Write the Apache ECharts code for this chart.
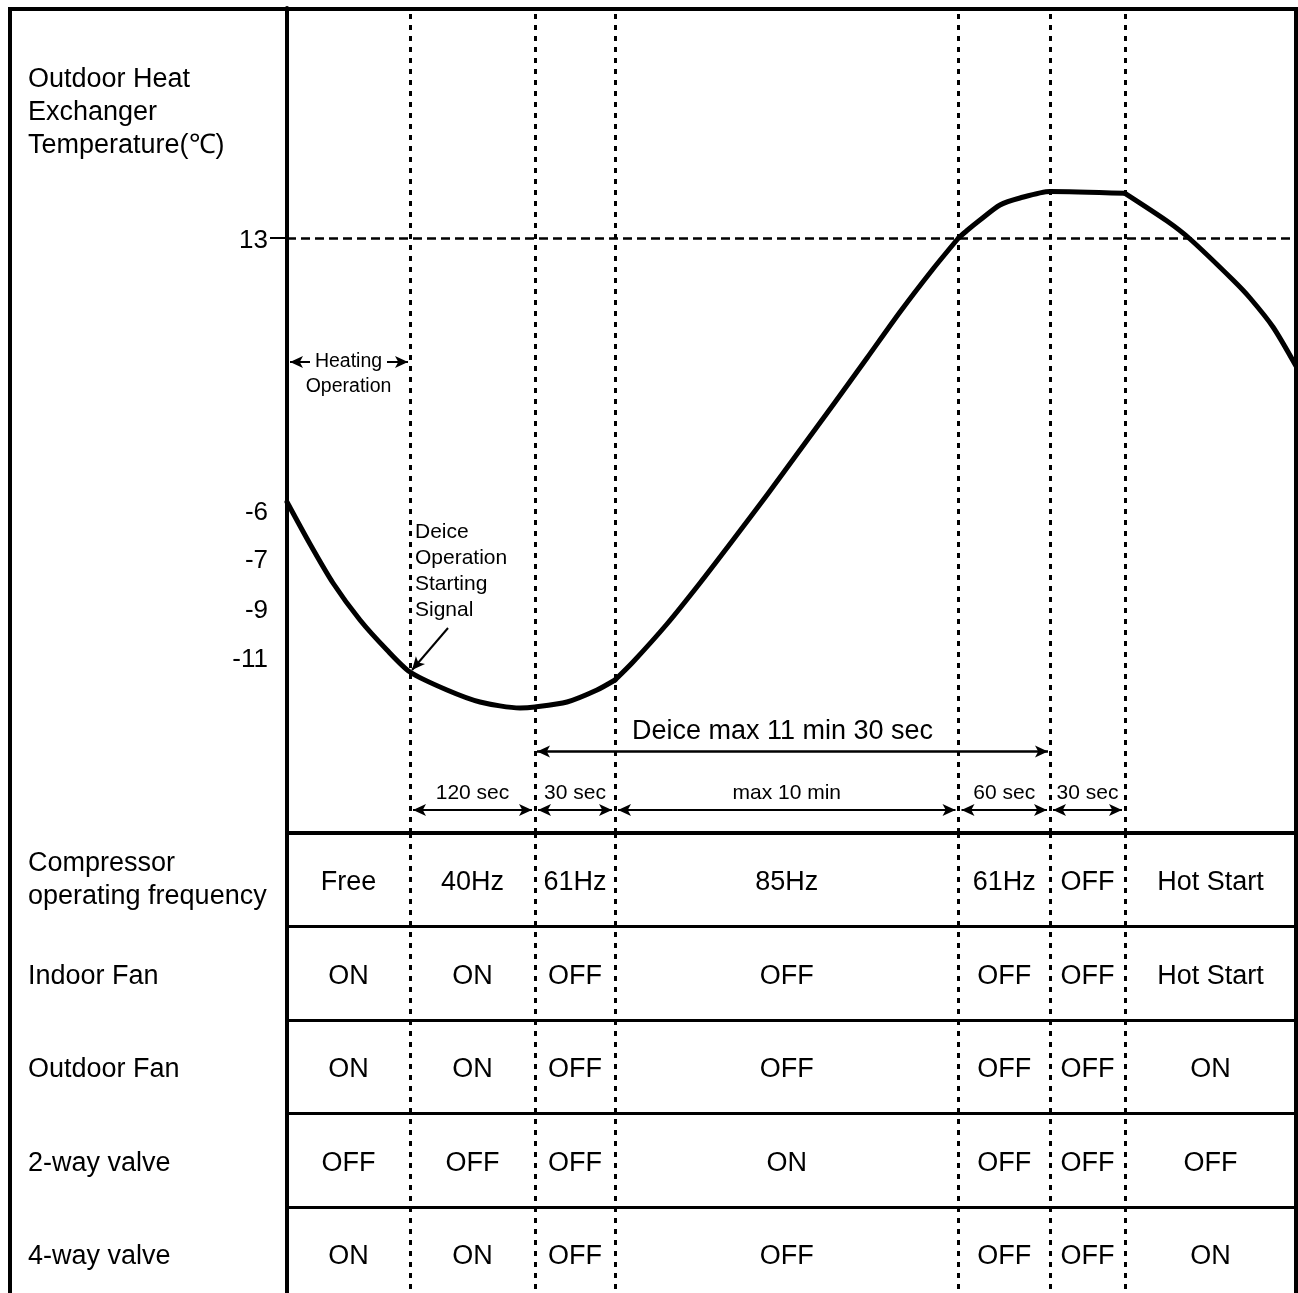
<!DOCTYPE html>
<html><head><meta charset="utf-8">
<script src="https://cdn.jsdelivr.net/npm/echarts@6/dist/echarts.min.js"></script>
<style>html,body{margin:0;padding:0;background:#fff}#c{width:1298px;height:1293px}</style>
</head><body><div id="c"></div>
<script>
// ---- data (schematic units) ----
const yTitle = 'Outdoor Heat\nExchanger\nTemperature(\u2103)';
// phase boundaries on the schematic time axis
const phaseBounds = [0, 12.3, 24.8, 32.8, 67.15, 76.3, 83.8, 100.9];
// temperature curve (schematic time, schematic level)
const curveTime  = [0, 2.3, 4.6, 7.3, 10.0, 12.3, 16.0, 19.3, 23.3, 24.8, 28.0, 31.0, 32.8, 34.6, 38.0, 41.3, 44.6, 48.0, 51.3, 54.6, 58.0, 61.3, 64.6, 67.15, 68.0, 69.3, 71.3, 73.3, 76.3, 83.8, 88.0, 90.3, 94.6, 96.3, 98.6, 100.9];
const curveLevel = [33.1, 28.9, 25.0, 21.3, 18.3, 16.1, 14.3, 13.1, 12.5, 12.6, 13.1, 14.3, 15.3, 17.1, 20.9, 25.0, 29.3, 33.8, 38.3, 42.8, 47.5, 52.1, 56.4, 59.5, 60.25, 61.3, 62.8, 63.5, 64.15, 63.97, 61.2, 59.4, 55.3, 53.5, 50.6, 46.7];
// indices of the points where the curve has a corner
const curveCorners = [12, 23, 29];
const tempTickLevels = [59.5, 32.3, 27.5, 22.5, 17.6];
const tempTickLabels = ['13', '-6', '-7', '-9', '-11'];
const thresholdLevel = 59.5;
const durationLabels = ['120 sec', '30 sec', 'max 10 min', '60 sec', '30 sec'];
const deiceLabel = 'Deice max 11 min 30 sec';
const heatingLabel = ['Heating', 'Operation'];
const signalLabel = 'Deice\nOperation\nStarting\nSignal';
const rowLabels = ['Compressor\noperating frequency', 'Indoor Fan', 'Outdoor Fan', '2-way valve', '4-way valve'];
const compressorStates = ['Free', '40Hz', '61Hz', '85Hz', '61Hz', 'OFF', 'Hot Start'];
const indoorFanStates  = ['ON', 'ON', 'OFF', 'OFF', 'OFF', 'OFF', 'Hot Start'];
const outdoorFanStates = ['ON', 'ON', 'OFF', 'OFF', 'OFF', 'OFF', 'ON'];
const twoWayStates     = ['OFF', 'OFF', 'OFF', 'ON', 'OFF', 'OFF', 'OFF'];
const fourWayStates    = ['ON', 'ON', 'OFF', 'OFF', 'OFF', 'OFF', 'ON'];

// ---- build ----
const FONT = '"Liberation Sans", Arial, sans-serif';
const BLACK = '#000';
const XMAX = phaseBounds[phaseBounds.length - 1];
const inner = phaseBounds.slice(1, -1);
const mids = phaseBounds.slice(0, -1).map((b, i) => (b + phaseBounds[i + 1]) / 2);
const curve = curveTime.map((t, i) => [t, curveLevel[i]]);
const cuts = [0].concat(curveCorners, [curve.length - 1]);
const curveSegments = cuts.slice(0, -1).map((c, i) => curve.slice(c, cuts[i + 1] + 1));
const rows = [compressorStates, indoorFanStates, outdoorFanStates, twoWayStates, fourWayStates];
const cells = [];
rows.forEach((r, ri) => r.forEach((s, pi) => cells.push([mids[pi], ri, s])));

const INSET = 0.3;
const dimLevel = 2.3, deiceLevel = 8.15, heatLevel = 47.1;
const arrowSize = [9, 13];
const solid = w => ({ color: BLACK, width: w, type: 'solid' });
const dimArrows = durationLabels.map((lab, i) => [
  { coord: [phaseBounds[i + 1] + INSET, dimLevel], symbol: 'arrow', symbolSize: arrowSize, lineStyle: solid(2),
    label: { show: true, formatter: lab, position: 'insideMiddleTop', distance: 6, color: BLACK, fontSize: 21, fontFamily: FONT } },
  { coord: [phaseBounds[i + 2] - INSET, dimLevel], symbol: 'arrow', symbolSize: arrowSize }
]);
const deiceArrow = [
  { coord: [phaseBounds[2] + 0.2, deiceLevel], symbol: 'arrow', symbolSize: arrowSize, lineStyle: solid(2.5) },
  { coord: [phaseBounds[5] - 0.2, deiceLevel], symbol: 'arrow', symbolSize: arrowSize }
];
const heatArrowL = [
  { coord: [2.3, heatLevel], symbol: 'none', lineStyle: solid(2) },
  { coord: [phaseBounds[0] + 0.3, heatLevel], symbol: 'arrow', symbolSize: arrowSize }
];
const heatArrowR = [
  { coord: [10.0, heatLevel], symbol: 'none', lineStyle: solid(2) },
  { coord: [phaseBounds[1] - 0.2, heatLevel], symbol: 'arrow', symbolSize: arrowSize }
];
const signalArrow = [
  { coord: [16.1, 20.5], symbol: 'none', lineStyle: solid(2) },
  { coord: [12.5, 16.3], symbol: 'arrow', symbolSize: arrowSize }
];
const txt = (x, y, s, extra) => ({ value: [x, y], label: Object.assign({ show: true, formatter: s, position: 'inside', color: BLACK, fontFamily: FONT }, extra) });

const chart = echarts.init(document.getElementById('c'), null, { renderer: 'canvas' });
chart.setOption({
  animation: false,
  backgroundColor: '#fff',
  textStyle: { fontFamily: FONT, color: BLACK },
  title: {
    text: yTitle, left: 28, top: 63, padding: 0,
    textStyle: { fontFamily: FONT, fontSize: 27, fontWeight: 'normal', color: BLACK, lineHeight: 33 }
  },
  grid: [
    { left: 287, right: 2, top: 8, height: 825, containLabel: false, outerBoundsMode: 'none' },
    { left: 287, right: 2, top: 833, height: 467.5, containLabel: false, outerBoundsMode: 'none' }
  ],
  xAxis: [
    { type: 'value', gridIndex: 0, min: 0, max: XMAX,
      axisLine: { show: true, lineStyle: { color: BLACK, width: 4 } },
      axisTick: { show: false }, axisLabel: { show: false }, splitLine: { show: false } },
    { type: 'value', gridIndex: 1, min: 0, max: XMAX, show: false, splitLine: { show: false } }
  ],
  yAxis: [
    { type: 'value', gridIndex: 0, min: 0, max: 82.5,
      axisLine: { show: true, lineStyle: { color: BLACK, width: 4 } },
      axisTick: { show: true, customValues: [thresholdLevel], length: 17, lineStyle: { color: BLACK, width: 2 } },
      axisLabel: { show: true, customValues: tempTickLevels, margin: 19, color: BLACK,
        rich: { t: { fontSize: 26, fontFamily: FONT, color: BLACK, padding: [5, 0, 0, 0] } },
        formatter: v => { const i = tempTickLevels.indexOf(v); return i >= 0 ? '{t|' + tempTickLabels[i] + '}' : ''; } },
      splitLine: { show: false } },
    { type: 'category', gridIndex: 1, inverse: true, data: rowLabels,
      axisLine: { show: true, lineStyle: { color: BLACK, width: 4 } },
      axisTick: { show: false },
      axisLabel: { show: true, align: 'left', margin: 259, fontSize: 27, lineHeight: 33, color: BLACK, fontFamily: FONT,
        rich: { r: { fontSize: 27, fontFamily: FONT, color: BLACK, padding: [6, 0, 0, 0] } },
        formatter: v => v.indexOf('\n') >= 0 ? v : '{r|' + v + '}' },
      splitLine: { show: true, lineStyle: { color: BLACK, width: 3 } } }
  ],
  series: [
    { type: 'line', xAxisIndex: 0, yAxisIndex: 0, data: [], silent: true,
      markLine: { silent: true, symbol: ['none', 'none'], label: { show: false },
        data: inner.map(b => ({ xAxis: b, lineStyle: { color: BLACK, width: 3, type: [5, 6] } }))
          .concat([{ yAxis: thresholdLevel, lineStyle: { color: BLACK, width: 2.5, type: [9, 5] } }])
      } },
    { type: 'line', xAxisIndex: 0, yAxisIndex: 0, data: [], silent: true,
      markLine: { silent: true, symbol: ['none', 'none'], label: { show: false },
        data: dimArrows.concat([deiceArrow, heatArrowL, heatArrowR, signalArrow]) } }
  ].concat(curveSegments.map(seg => ({
    type: 'line', xAxisIndex: 0, yAxisIndex: 0, data: seg, symbol: 'none', z: 5, smooth: 0.25,
    lineStyle: { color: BLACK, width: 5, join: 'round', cap: 'round' }
  }))).concat([
    { type: 'scatter', xAxisIndex: 0, yAxisIndex: 0, symbolSize: 0, silent: true, itemStyle: { opacity: 1 },
      data: [
        txt(mids[0], heatLevel, heatingLabel[0], { fontSize: 19.5 }),
        txt(mids[0], 44.6, heatingLabel[1], { fontSize: 19.5 }),
        txt(49.55, 10.1, deiceLabel, { fontSize: 27 }),
        txt(phaseBounds[1] + 0.5, 26.2, signalLabel, { position: 'right', distance: 0, fontSize: 21, lineHeight: 26 })
      ] },
    { type: 'scatter', xAxisIndex: 1, yAxisIndex: 1, symbolSize: 0, silent: true, data: cells, itemStyle: { opacity: 1 },
      label: { show: true, position: 'inside', offset: [0, 3], formatter: p => p.value[2], fontSize: 27, color: BLACK, fontFamily: FONT },
      markLine: { silent: true, symbol: ['none', 'none'], label: { show: false },
        data: inner.map(b => ({ xAxis: b, lineStyle: { color: BLACK, width: 3, type: [5, 6] } })) } }
  ]),
  graphic: [
    { type: 'rect', z: 100, silent: true, shape: { x: 10, y: 9, width: 1286, height: 1300 },
      style: { fill: 'none', stroke: BLACK, lineWidth: 4 } }
  ]
});
</script></body></html>
